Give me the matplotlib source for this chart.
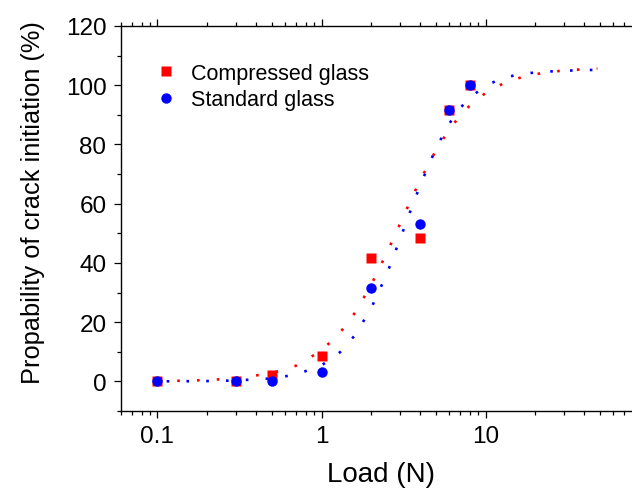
import numpy as np
import matplotlib
matplotlib.use("Agg")
from matplotlib import pyplot as plt
from matplotlib.ticker import LogLocator, MultipleLocator, FixedLocator, NullFormatter

plt.rcParams['font.family'] = ['Liberation Sans', 'DejaVu Sans']

# Measured points
load = [0.1, 0.3, 0.5, 1, 2, 4, 6, 8]
compressed = [0, 0, 2.2, 8.5, 41.6, 48.4, 91.5, 100]
standard = [0, 0, 0, 3.3, 31.6, 53.3, 91.6, 100]

# Fitted curves
fit_load = [0.1, 0.15, 0.2, 0.3, 0.5, 0.7, 1, 1.3, 1.6, 2, 2.5, 3, 3.5, 4,
            5, 6, 7, 8, 10, 13, 17, 22, 30, 40, 48]
fit_compressed = [0.1, 0.25, 0.45, 1.0, 2.8, 5.3, 10.4, 16.5, 23.2, 32.4, 43.4,
                  53.0, 61.2, 68.0, 78.2, 85.0, 89.8, 93.1, 97.4, 100.8, 102.9,
                  104.1, 105.0, 105.4, 105.6]
fit_standard = [0.02, 0.05, 0.1, 0.3, 1.0, 2.3, 5.4, 9.9, 15.6, 24.5, 36.3,
                47.8, 57.9, 66.3, 78.9, 87.0, 92.3, 95.7, 99.9, 102.6, 103.9,
                104.5, 104.9, 105.1, 105.2]

fig = plt.figure(figsize=(6.32, 4.89), dpi=100)
ax = fig.add_axes([121 / 632, 1 - 412 / 489, 1 - 121 / 632, (412 - 27) / 489])

ax.plot(fit_load, fit_compressed, color='red', lw=1.9, ls=(0, (1, 6.5)), zorder=2)
ax.plot(fit_load, fit_standard, color='blue', lw=1.9, ls=(4, (1, 6.5)), zorder=2)
ax.plot(load, compressed, 's', color='red', ms=6.8, mec='none',
        label='Compressed glass', zorder=3)
ax.plot(load, standard, 'o', color='blue', ms=7.5, mec='none',
        label='Standard glass', zorder=4)

ax.set_xscale('log')
ax.set_xlim(0.06, 78)
ax.set_ylim(-10, 120)

ax.xaxis.set_major_locator(FixedLocator([0.1, 1, 10]))
ax.set_xticklabels(['0.1', '1', '10'])
ax.xaxis.set_minor_locator(LogLocator(base=10, subs=np.arange(2, 10)))
ax.xaxis.set_minor_formatter(NullFormatter())
ax.yaxis.set_major_locator(MultipleLocator(20))
ax.yaxis.set_minor_locator(MultipleLocator(10))
ax.set_yticks([0, 20, 40, 60, 80, 100, 120])

for s in ['left', 'bottom', 'top']:
    ax.spines[s].set_linewidth(1.0)
ax.spines['right'].set_visible(False)

ax.tick_params(which='both', direction='out', width=0.9, labelsize=17.5,
               top=True, right=False)
ax.tick_params(which='major', length=5)
ax.tick_params(which='minor', length=3)
ax.tick_params(axis='x', pad=5)
ax.tick_params(axis='y', pad=5.5)

ax.set_xlabel('Load (N)', fontsize=20, labelpad=10)
ax.set_ylabel('Propability of crack initiation (%)', fontsize=18.3, labelpad=15)
ax.xaxis.label.set_x(0.509)
ax.yaxis.label.set_y(0.543)

ax.legend(loc='upper left', bbox_to_anchor=(155 / 632, 1 - 64 / 489),
          bbox_transform=fig.transFigure, frameon=False, fontsize=15.5,
          handlelength=1.0, handletextpad=0.65, labelspacing=0.25,
          borderpad=0, borderaxespad=0)

fig.savefig('out.png', dpi=100)
